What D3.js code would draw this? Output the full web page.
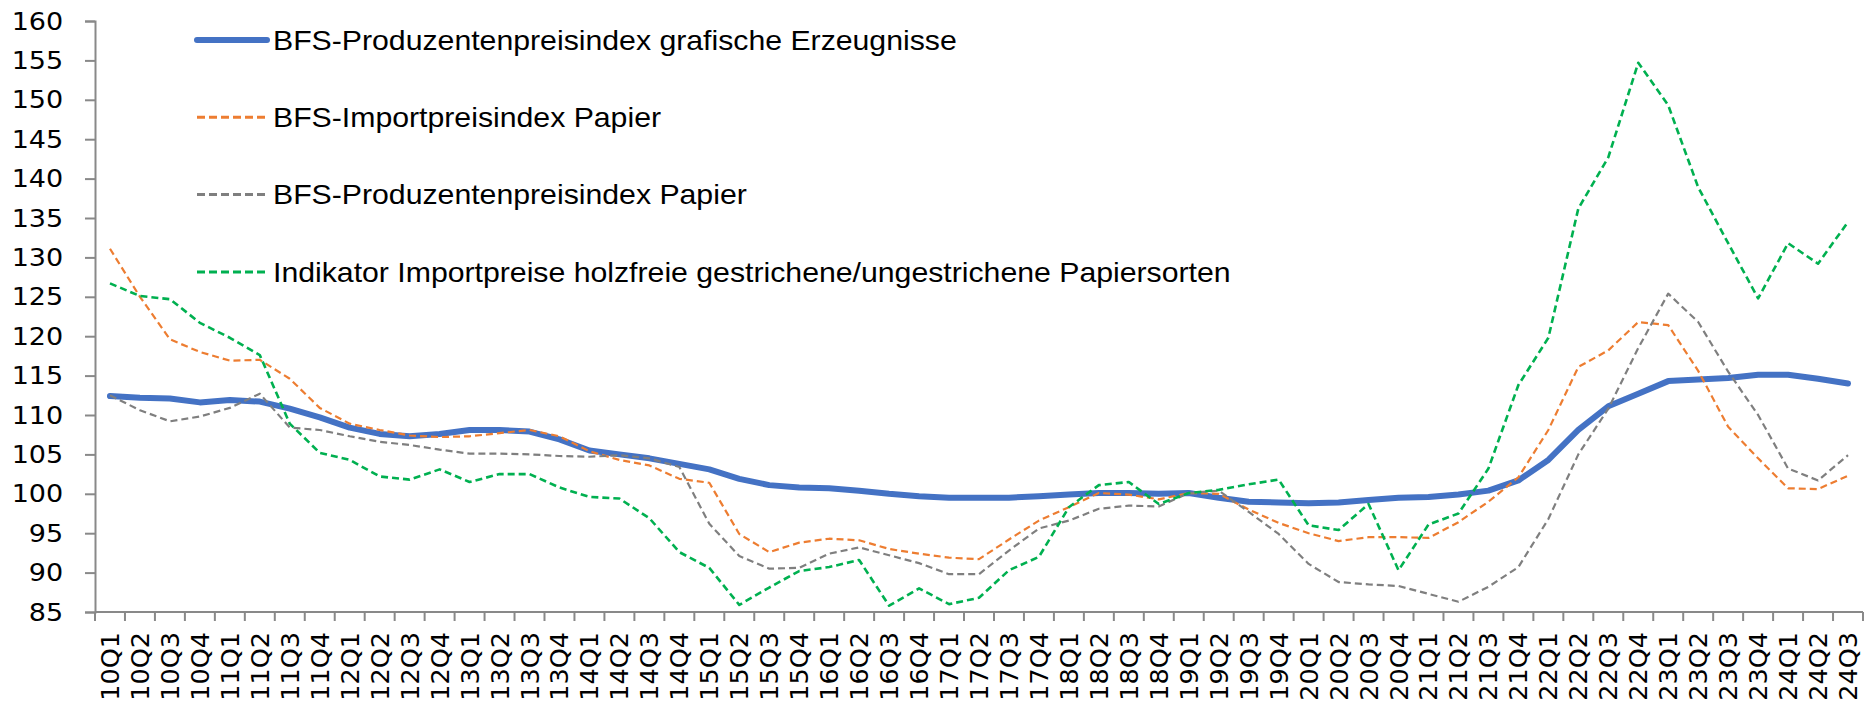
<!DOCTYPE html>
<html>
<head>
<meta charset="utf-8">
<script src="https://cdn.jsdelivr.net/npm/d3@7"></script>
<style>
  body { margin: 0; background: #fff; }
  svg text { fill: #000; }
</style>
</head>
<body>
<div id="chart"></div>
<script>
const WIDTH  = 1864
const HEIGHT = 706

const years    = d3.range(10, 25)
const quarters = years.flatMap(y => [1, 2, 3, 4].map(q => `${y}Q${q}`)).slice(0, 59)

const yTicks = d3.range(85, 161, 5)

const grafische = [
    112.4, 112.2, 112.1, 111.6, 111.9, 111.7, 110.8, 109.7, 108.4, 107.6,
    107.3, 107.6, 108.1, 108.1, 107.9, 106.9, 105.5, 105.0, 104.5, 103.8,
    103.1, 101.9, 101.1, 100.8, 100.7, 100.4, 100.0, 99.7, 99.5, 99.5,
    99.5, 99.7, 99.9, 100.1, 100.1, 100.0, 100.1, 99.5, 99.0, 98.9,
    98.8, 98.9, 99.2, 99.5, 99.6, 99.9, 100.4, 101.7, 104.3, 108.1,
    111.1, 112.7, 114.3, 114.5, 114.7, 115.1, 115.1, 114.6, 114.0
]
const importPapier = [
    131.1, 125.0, 119.6, 118.0, 116.9, 117.0, 114.6, 110.9, 108.9, 108.1,
    107.4, 107.2, 107.3, 107.7, 108.1, 107.3, 105.4, 104.3, 103.6, 101.9,
    101.4, 94.9, 92.6, 93.8, 94.3, 94.1, 93.0, 92.4, 91.9, 91.7,
    94.2, 96.6, 98.3, 100.1, 99.9, 99.3, 100.1, 100.0, 98.0, 96.3,
    95.0, 94.0, 94.5, 94.5, 94.4, 96.4, 99.0, 102.1, 108.1, 116.1,
    118.2, 121.8, 121.4, 115.6, 108.5, 104.5, 100.7, 100.6, 102.3
]
const produzentPapier = [
    112.5, 110.6, 109.2, 109.8, 110.9, 112.7, 108.4, 108.1, 107.3, 106.6,
    106.2, 105.6, 105.1, 105.1, 105.0, 104.8, 104.7, 104.9, 104.5, 103.4,
    96.2, 92.1, 90.5, 90.6, 92.4, 93.2, 92.2, 91.2, 89.8, 89.8,
    92.8, 95.6, 96.6, 98.1, 98.5, 98.4, 100.1, 100.4, 97.7, 94.9,
    91.1, 88.8, 88.5, 88.3, 87.3, 86.3, 88.2, 90.7, 96.8, 105.0,
    110.8, 118.5, 125.4, 121.8, 115.5, 110.0, 103.2, 101.7, 104.9
]
const holzfrei = [
    126.7, 125.1, 124.7, 121.7, 119.8, 117.6, 108.9, 105.2, 104.3, 102.2,
    101.8, 103.1, 101.5, 102.5, 102.5, 100.8, 99.6, 99.4, 96.9, 92.6,
    90.6, 85.9, 88.1, 90.2, 90.7, 91.6, 85.8, 88.0, 86.0, 86.8,
    90.3, 92.0, 98.3, 101.1, 101.5, 98.7, 100.1, 100.5, 101.2, 101.8,
    96.0, 95.4, 98.7, 90.3, 96.1, 97.5, 103.2, 113.8, 119.8, 136.2,
    142.7, 154.7, 149.3, 138.9, 131.8, 124.8, 131.8, 129.2, 134.5
]

const seriesNames = [
    'BFS-Produzentenpreisindex grafische Erzeugnisse',
    'BFS-Importpreisindex Papier',
    'BFS-Produzentenpreisindex Papier',
    'Indikator Importpreise holzfreie gestrichene/ungestrichene Papiersorten'
]

const series = [
    { name: seriesNames[0], values: grafische,       color: '#4472c4', width: 6,   dash: null },
    { name: seriesNames[1], values: importPapier,    color: '#ed7d31', width: 2.2, dash: '7,4' },
    { name: seriesNames[2], values: produzentPapier, color: '#7f7f7f', width: 2.2, dash: '7,4' },
    { name: seriesNames[3], values: holzfrei,        color: '#00b050', width: 2.6, dash: '7,4' }
]

const margin = { top: 21, right: 1, bottom: 94, left: 95 }

const svg = d3.select('#chart').append('svg')
    .attr('width', WIDTH)
    .attr('height', HEIGHT)

const x = d3.scaleBand()
    .domain(quarters)
    .range([margin.left, WIDTH - margin.right])

const y = d3.scaleLinear()
    .domain([85, 160])
    .range([HEIGHT - margin.bottom, margin.top])

const axisColor = '#898989'

// y axis
const yAxis = svg.append('g')
    .attr('transform', `translate(${margin.left},0)`)
    .call(d3.axisLeft(y).tickValues(yTicks).tickSize(10).tickPadding(20))

yAxis.select('.domain').attr('stroke', axisColor).attr('stroke-width', 2)
yAxis.selectAll('.tick line').attr('stroke', axisColor).attr('stroke-width', 2)
yAxis.selectAll('.tick text')
    .attr('font-family', 'DejaVu Sans')
    .attr('font-size', 25.5)
    .attr('fill', '#000')
    .attr('transform', 'scale(1.06,1)')

// x axis, ticks on category boundaries
const xAxisG = svg.append('g')
    .attr('transform', `translate(0,${HEIGHT - margin.bottom})`)

xAxisG.append('line')
    .attr('x1', margin.left).attr('x2', WIDTH - margin.right)
    .attr('stroke', axisColor).attr('stroke-width', 2)

xAxisG.selectAll('.bt')
    .data(quarters.concat(['end']))
    .join('line')
    .attr('class', 'bt')
    .attr('x1', (d, i) => i < quarters.length ? x(d) : x(quarters[quarters.length - 1]) + x.bandwidth())
    .attr('x2', (d, i) => i < quarters.length ? x(d) : x(quarters[quarters.length - 1]) + x.bandwidth())
    .attr('y1', 0).attr('y2', 9)
    .attr('stroke', axisColor).attr('stroke-width', 2)

xAxisG.selectAll('.lbl')
    .data(quarters)
    .join('text')
    .attr('class', 'lbl')
    .attr('transform', d => `translate(${x(d) + x.bandwidth() / 2 + 9},20) rotate(-90)`)
    .attr('text-anchor', 'end')
    .attr('font-family', 'DejaVu Sans')
    .attr('font-size', 25.5)
    .text(d => d)

// lines
const line = d3.line()
    .x((d, i) => x(quarters[i]) + x.bandwidth() / 2)
    .y(d => y(d))

svg.append('g').selectAll('path')
    .data(series)
    .join('path')
    .attr('d', d => line(d.values))
    .attr('fill', 'none')
    .attr('stroke', d => d.color)
    .attr('stroke-width', d => d.width)
    .attr('stroke-dasharray', d => d.dash)
    .attr('stroke-linejoin', 'round')
    .attr('stroke-linecap', d => d.dash ? 'butt' : 'round')

// legend
const legend = svg.append('g')
    .selectAll('g')
    .data(series)
    .join('g')
    .attr('transform', (d, i) => `translate(197,${40 + i * 77.3})`)

legend.append('line')
    .attr('x1', 0).attr('x2', 70)
    .attr('stroke', d => d.color)
    .attr('stroke-width', d => d.dash ? 3 : 6)
    .attr('stroke-dasharray', d => d.dash ? '8,4' : null)
    .attr('stroke-linecap', d => d.dash ? 'butt' : 'round')

legend.append('text')
    .attr('transform', 'translate(76,0) scale(1.08,1)')
    .attr('dy', '0.35em')
    .attr('font-family', 'Liberation Sans, Arial, sans-serif')
    .attr('font-size', 28)
    .text(d => d.name)
</script>
</body>
</html>
